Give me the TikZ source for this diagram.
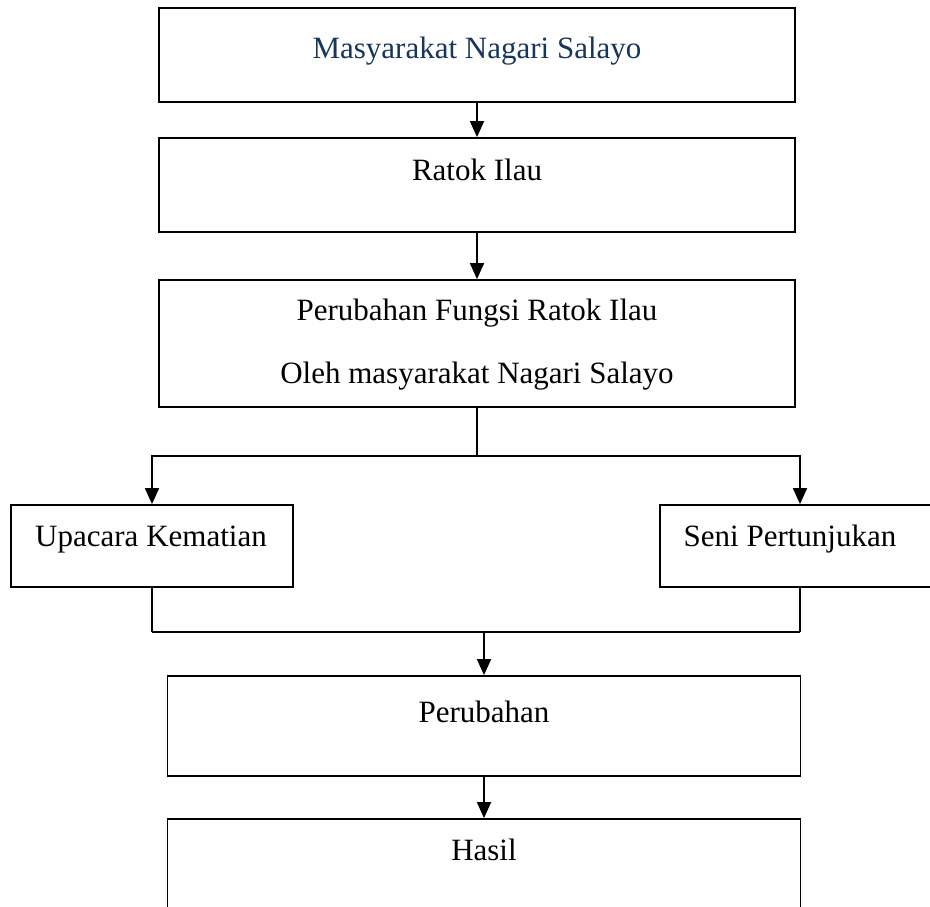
\documentclass[tikz,border=0pt]{standalone}
\usepackage{fontspec}
\setmainfont{Liberation Serif}
\usetikzlibrary{arrows.meta}
\definecolor{navy}{RGB}{23,54,93}

\begin{document}
\begin{tikzpicture}[x=0.5pt,y=-0.5pt,>={Triangle[length=8pt,width=7pt]},
  kotak/.style={draw,line width=0.9pt,inner sep=0pt},
  teks/.style={anchor=base,inner sep=0pt,font=\fontsize{15.5}{18}\selectfont},
  panah/.style={->,line width=0.9pt},
  garis/.style={line width=0.6pt}]
  % 1 unit = 1 piksel gambar (930 x 906), y ke bawah
  \useasboundingbox (0,0) rectangle (930,906);
  % Kotak-kotak
  \node[kotak,minimum width=318pt,minimum height=47pt] (masy) at (477,55) {};
  \node[kotak,minimum width=318pt,minimum height=47pt] (ratok) at (477,185) {};
  \node[kotak,minimum width=318pt,minimum height=63.5pt] (fungsi) at (477,343.5) {};
  \node[kotak,minimum width=141pt,minimum height=41pt] (upacara) at (152,546) {};
  \node[kotak,minimum width=140pt,minimum height=41pt] (seni) at (800,546) {};
  \node[kotak,minimum width=316.5pt,minimum height=50pt] (perubahan) at (484,726) {};
  \node[kotak,minimum width=316.5pt,minimum height=70pt] (hasil) at (484,889) {};
  % Teks di dalam kotak
  \node[teks,text=navy] (tmasy) at (477,58) {Masyarakat Nagari Salayo};
  \node[teks] (tratok) at (477,180) {Ratok Ilau};
  \node[teks] (tfungsi1) at (477,320) {Perubahan Fungsi Ratok Ilau};
  \node[teks] (tfungsi2) at (477,383) {Oleh masyarakat Nagari Salayo};
  \node[teks] (tupacara) at (151,546) {Upacara Kematian};
  \node[teks] (tseni) at (790,546) {Seni Pertunjukan};
  \node[teks] (tperubahan) at (484,722) {Perubahan};
  \node[teks] (thasil) at (484,860) {Hasil};
  % Titik cabang dan titik gabung
  \coordinate (cabang) at (477,456);
  \coordinate (gabung) at (484,632);
  % Panah
  \draw[panah] (masy) -- (ratok);
  \draw[panah] (ratok) -- (fungsi);
  \draw[garis] (fungsi.south) -- (cabang);
  \draw[panah] (cabang) -| (upacara.north);
  \draw[panah] (cabang) -| (seni.north);
  \draw[garis] (upacara.south) -- (upacara.south |- gabung);
  \draw[garis] (seni.south) -- (seni.south |- gabung);
  \draw[line width=0.9pt] (upacara.south |- gabung) -- (seni.south |- gabung);
  \draw[panah] (gabung) -- (perubahan.north);
  \draw[panah] (perubahan) -- (hasil);
\end{tikzpicture}
\end{document}
